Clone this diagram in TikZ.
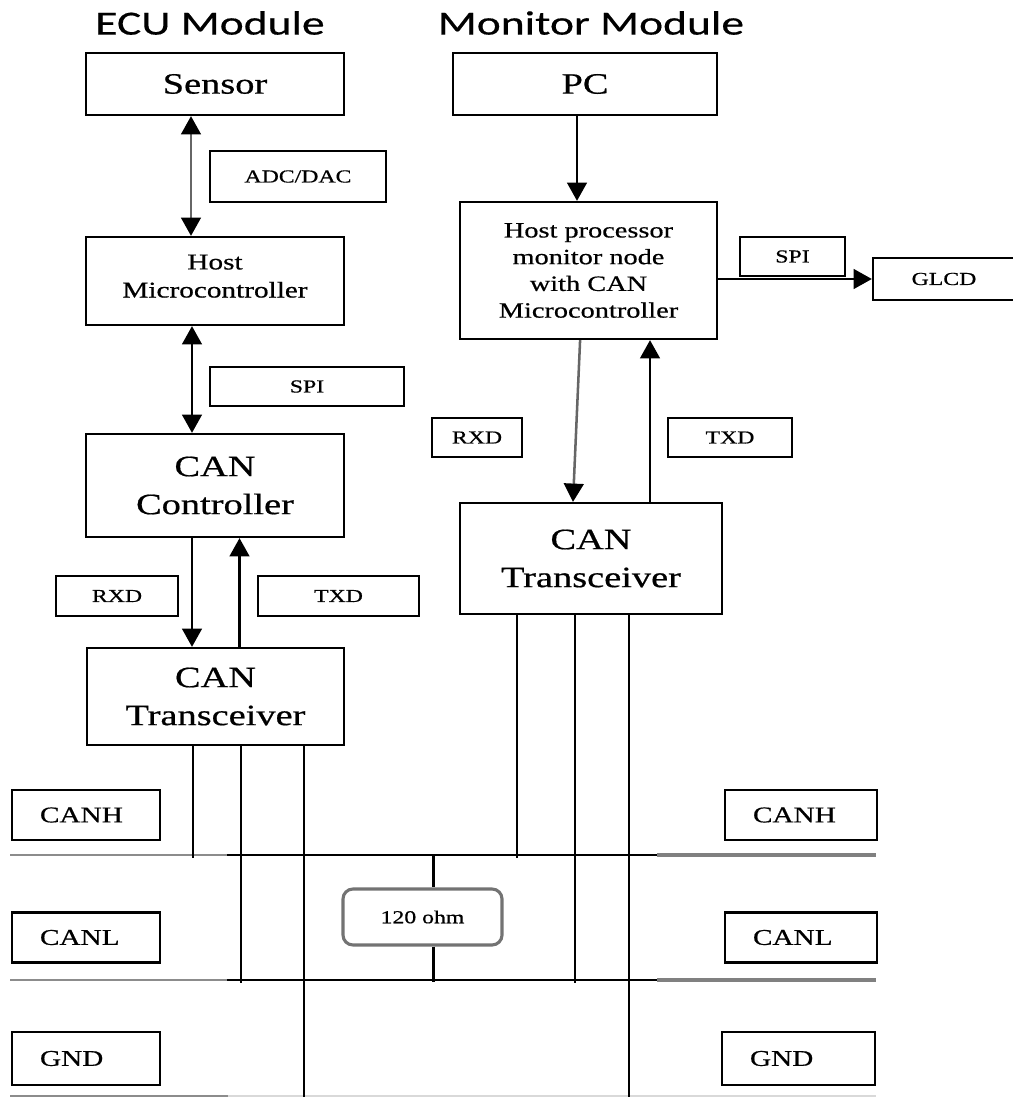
\documentclass[tikz,border=0pt]{standalone}
\usepackage{fontspec}
\setmainfont{Liberation Serif}[FakeStretch=1.3,FakeBold=0.6]
\newfontfamily\titlefont{Carlito}[FakeStretch=1.35,FakeBold=0.4]
\usetikzlibrary{arrows.meta,positioning}

\tikzset{
  blk/.style={draw,line width=1.6pt,align=center,inner sep=0pt},
  bigtxt/.style={font=\fontsize{21}{27}\selectfont},
  midtxt/.style={font=\fontsize{16}{20}\selectfont},
  proctxt/.style={font=\fontsize{15.5}{19}\selectfont},
  smalltxt/.style={font=\fontsize{13}{15}\selectfont},
  buslabel/.style={draw,line width=1.6pt,minimum height=1.25cm,text width=2.3cm,
    inner xsep=0.7cm,align=left,font=\fontsize{16}{18}\selectfont},
  wire/.style={line width=1.8pt},
  sig/.style={wire,-{Triangle[length=13pt,width=14pt,color=black]}},
  bisig/.style={wire,{Triangle[length=13pt,width=14pt,color=black]}-{Triangle[length=13pt,width=14pt,color=black]}},
}

\begin{document}
\begin{tikzpicture}[x=0.025cm,y=-0.025cm]
    \useasboundingbox (0,0) rectangle (1012,1097);

    % titles
    \node[font=\titlefont\fontsize{24}{28}\selectfont] (ecutitle) at (210,23) {ECU Module};
    \node[font=\titlefont\fontsize{24}{28}\selectfont] (montitle) at (591,23) {Monitor Module};

    % ECU module
    \node[blk,bigtxt,minimum width=6.45cm,minimum height=1.55cm] (sensor) at (215,84) {Sensor};
    \node[blk,smalltxt,minimum width=4.4cm,minimum height=1.275cm] (adc) at (298,176.5) {ADC/DAC};
    \node[blk,midtxt,minimum width=6.45cm,minimum height=2.2cm] (host) at (215,281) {Host\\Microcontroller\\[-13pt]};
    \node[blk,smalltxt,minimum width=4.85cm,minimum height=0.975cm] (spiL) at (307,386.5) {SPI};
    \node[blk,bigtxt,minimum width=6.45cm,minimum height=2.575cm] (canctrl) at (215,485.5) {CAN\\Controller};
    \node[blk,smalltxt,minimum width=3.05cm,minimum height=1cm] (rxdL) at (117,596) {RXD};
    \node[blk,smalltxt,minimum width=4.025cm,minimum height=1cm] (txdL) at (338.5,596) {TXD};
    \node[blk,bigtxt,minimum width=6.425cm,minimum height=2.425cm] (transL) at (215.5,696.5) {CAN\\Transceiver};

    % monitor module
    \node[blk,bigtxt,minimum width=6.6cm,minimum height=1.55cm] (pc) at (585,84) {PC};
    \node[blk,proctxt,minimum width=6.425cm,minimum height=3.425cm] (hostproc) at (588.5,270.5) {Host processor\\monitor node\\with CAN\\Microcontroller};
    \node[blk,smalltxt,minimum width=2.625cm,minimum height=0.975cm] (spiR) at (792.5,256.5) {SPI};
    \node[blk,smalltxt,minimum width=3.55cm,minimum height=1.05cm] (glcd) at (944,279) {GLCD};
    \node[blk,smalltxt,minimum width=2.25cm,minimum height=0.975cm] (rxdR) at (477,437.5) {RXD};
    \node[blk,smalltxt,minimum width=3.1cm,minimum height=0.975cm] (txdR) at (730,437.5) {TXD};
    \node[blk,bigtxt,minimum width=6.55cm,minimum height=2.775cm] (transR) at (591,558.5) {CAN\\Transceiver};

    % bus labels
    \node[buslabel] (canhL) at (86,815) {CANH};
    \node[buslabel] (canlL) at (86,937.5) {CANL};
    \node[buslabel,minimum height=1.325cm] (gndL) at (86,1058.5) {GND};
    \node[buslabel,text width=2.4cm] (canhR) at (801,815) {CANH};
    \node[buslabel,text width=2.4cm] (canlR) at (801,937.5) {CANL};
    \node[buslabel,text width=2.425cm,minimum height=1.325cm] (gndR) at (798.5,1058.5) {GND};

    \node[draw=black!55,line width=2.2pt,rounded corners=0.25cm,minimum width=3.975cm,minimum height=1.4cm,
      smalltxt] (ohm) at (422.5,917) {120 ohm};

    % links inside the modules
    \draw[bisig,draw=black!60] ([xshift=-0.6cm]sensor.south) -- ([xshift=-0.6cm]host.north);
    \draw[bisig] ([xshift=-0.575cm]host.south) -- ([xshift=-0.575cm]canctrl.north);
    \draw[sig] ([xshift=-0.575cm]canctrl.south) -- ([xshift=-0.575cm]canctrl.south |- transL.north);
    \draw[sig] ([xshift=0.6cm]transL.north) -- ([xshift=0.6cm]transL.north |- canctrl.south);
    \draw[sig] ([xshift=-0.2cm]pc.south) -- ([xshift=-0.2cm]pc.south |- hostproc.north);
    \draw[sig,draw=black!60] ([xshift=-0.21cm]hostproc.south) -- ([xshift=-0.45cm]transR.north);
    \draw[sig] ([xshift=1.475cm]transR.north) -- ([xshift=1.475cm]transR.north |- hostproc.south);
    \draw[sig] (hostproc.east |- glcd.west) -- (glcd.west);

    % bus lines
    \foreach \yy in {855,980} {
      \draw[line width=1.6pt,black!45] (10,\yy) -- (227,\yy);
      \draw[wire] (227,\yy) -- (657,\yy);
      \draw[line width=2.4pt,black!50] (657,\yy) -- (876,\yy);
    }
    \draw[line width=1.8pt,black!45] (10,1096) -- (228,1096);
    \draw[line width=1pt,black!15] (228,1096) -- (876,1096);

    % drops to the bus
    \foreach \t/\xx/\yy in {transL/193/858,transL/241/983,transL/304/1097,transR/517/858,transR/575/983,transR/629/1097}
    \draw[wire] (\t.south -| \xx,0) -- (\xx,\yy);

    \draw[wire] (433.5,855) -- (ohm.north -| 433.5,0);
    \draw[wire] (ohm.south -| 433.5,0) -- (433.5,982);

\end{tikzpicture}
\end{document}
